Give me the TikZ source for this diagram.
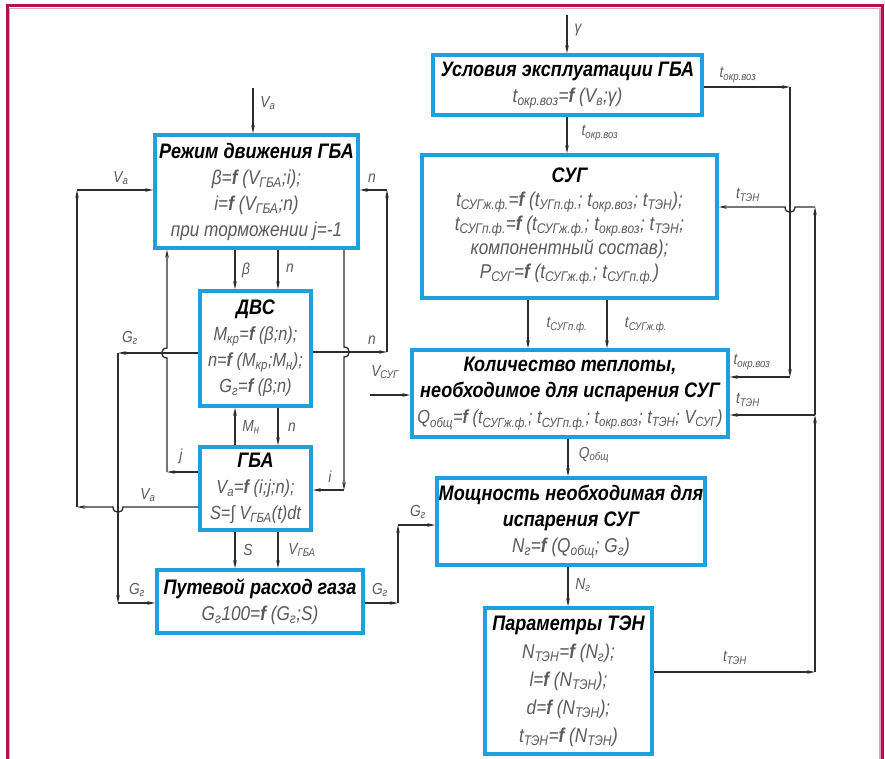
\documentclass[tikz,border=0pt]{standalone}
\usepackage{fontspec}
\setmainfont{Liberation Sans}[FakeStretch=0.86]
\usetikzlibrary{arrows.meta}
\definecolor{boxblue}{RGB}{30,160,222}
\definecolor{framecol}{RGB}{176,18,80}
\definecolor{framelight}{RGB}{225,160,190}
\definecolor{txtg}{RGB}{90,90,90}
\definecolor{lineg}{RGB}{45,45,45}
\newcommand\sbs[1]{\textsubscript{#1}}
\newcommand\ff{\textbf{f}}
\newcommand\ttl{\bfseries\color{black}\fontsize{21}{26}\selectfont}
\newcommand\fml{\itshape\fontsize{20}{26}\selectfont}
\tikzset{
  blk/.style={draw=boxblue,line width=3.4pt,fill=white,inner sep=0pt,align=center,text=txtg,font=\fml},
  con/.style={draw=lineg,line width=1.3pt},
  arr/.style={con,-{Stealth[length=8pt,width=3.5pt]}},
  lbl/.style={font=\itshape\fontsize{16}{16}\selectfont,text=txtg,inner sep=1pt}
}
\begin{document}
\begin{tikzpicture}[x=1pt,y=-1pt]
\useasboundingbox (0,0) rectangle (885,759);
\fill[white] (0,0) rectangle (885,759);
% frame
\draw[framelight,line width=1.2pt] (9.6,759) -- (9.6,8.6) -- (879.9,8.6) -- (879.9,759);
\draw[framecol,line width=3pt] (7,759) -- (7,6) -- (882.5,6) -- (882.5,759);

% ---------- left blocks ----------
\node[blk,minimum width=203pt,minimum height=113pt] (b1) at (256.5,191.5)
 {{\ttl Режим движения ГБА}\\β=\ff{} (V\sbs{ГБА};i);\\i=\ff{} (V\sbs{ГБА};n)\\при торможении j=-1};
\node[blk,minimum width=111pt,minimum height=115pt,font=\itshape\fontsize{19}{26}\selectfont] (b2) at (255.5,348.5)
 {{\ttl ДВС}\\M\sbs{кр}=\ff{} (β;n);\\n=\ff{} (M\sbs{кр};M\sbs{н});\\G\sbs{г}=\ff{} (β;n)};
\node[blk,minimum width=111pt,minimum height=83pt,font=\itshape\fontsize{19}{26}\selectfont] (b3) at (255.5,488.5)
 {{\ttl ГБА}\\V\sbs{a}=\ff{} (i;j;n);\\S=∫ V\sbs{ГБА}(t)dt};
\node[blk,minimum width=206pt,minimum height=63pt] (b4) at (260,601.5)
 {{\ttl Путевой расход газа}\\G\sbs{г}100=\ff{} (G\sbs{г};S)};

% ---------- right blocks ----------
\node[blk,minimum width=269pt,minimum height=60pt] (c1) at (567.5,85)
 {{\ttl Условия эксплуатации ГБА}\\t\sbs{окр.воз}=\ff{} (V\sbs{в};γ)};
\node[blk,minimum width=295pt,minimum height=143pt,font=\itshape\fontsize{20}{24}\selectfont] (c2) at (569.5,226.5)
 {{\ttl СУГ}\\t\sbs{СУГж.ф.}=\ff{} (t\sbs{УГп.ф.}; t\sbs{окр.воз}; t\sbs{ТЭН});\\t\sbs{СУГп.ф.}=\ff{} (t\sbs{СУГж.ф.}; t\sbs{окр.воз}; t\sbs{ТЭН};\\компонентный состав);\\P\sbs{СУГ}=\ff{} (t\sbs{СУГж.ф.}; t\sbs{СУГп.ф.})};
\node[blk,minimum width=316pt,minimum height=87pt] (c3) at (570,393.5)
 {{\ttl Количество теплоты,}\\{\ttl необходимое для испарения СУГ}\\{\fontsize{19}{26}\selectfont Q\sbs{общ}=\ff{} (t\sbs{СУГж.ф.}; t\sbs{СУГп.ф.}; t\sbs{окр.воз}; t\sbs{ТЭН}; V\sbs{СУГ})}};
\node[blk,minimum width=268pt,minimum height=87pt] (c4) at (571,521.5)
 {{\ttl Мощность необходимая для}\\{\ttl испарения СУГ}\\N\sbs{г}=\ff{} (Q\sbs{общ}; G\sbs{г})};
\node[blk,minimum width=167pt,minimum height=146pt,font=\itshape\fontsize{20}{28}\selectfont] (c5) at (568.5,681)
 {{\ttl Параметры ТЭН}\\N\sbs{ТЭН}=\ff{} (N\sbs{г});\\l=\ff{} (N\sbs{ТЭН});\\d=\ff{} (N\sbs{ТЭН});\\t\sbs{ТЭН}=\ff{} (N\sbs{ТЭН})};

% ---------- helper coordinates ----------
\coordinate (xb) at (235,0);
\coordinate (xn) at (278,0);
\coordinate (vin) at (253,88);
\coordinate (va1) at (77,507);
\coordinate (va2) at (77,190);
\coordinate (g1) at (118,353);
\coordinate (g2) at (118,603);
\coordinate (j1) at (167,472);
\coordinate (i1) at (344,490);
\coordinate (n1) at (387,352);
\coordinate (n2) at (387,190);
\coordinate (o1) at (398,603);
\coordinate (o2) at (398,525);
\coordinate (gin) at (567,15);
\coordinate (xg) at (567,0);
\coordinate (t1) at (790,87);
\coordinate (t2) at (790,377);
\coordinate (e1) at (815,672);
\coordinate (e2) at (815,415);
\coordinate (e3) at (815,207);
\coordinate (xp) at (528,0);
\coordinate (xz) at (607,0);
\coordinate (vs) at (370,395);
\coordinate (xq) at (568,0);

% ---------- left connectors ----------
\draw[arr] (vin) -- (vin |- b1.north);
\draw[arr] (xb |- b1.south) -- (xb |- b2.north);
\draw[arr] (xn |- b1.south) -- (xn |- b2.north);
\draw[arr] (xb |- b3.north) -- (xb |- b2.south);
\draw[arr] (xn |- b2.south) -- (xn |- b3.north);
\draw[arr] (xb |- b3.south) -- (xb |- b4.north);
\draw[arr] (xn |- b3.south) -- (xn |- b4.north);
% Va loop
\draw[arr] (b3.west |- va1) -- (123,507) .. controls (123,514) and (113,514) .. (113,507) -- (va1);
\draw[arr] (va1) -- (va2);
\draw[arr] (va2) -- (va2 -| b1.west);
% Gг from ДВС
\draw[arr] (b2.west |- g1) -- (g1);
\draw[arr] (g1) -- (g2);
\draw[arr] (g2) -- (g2 -| b4.west);
% j
\draw[arr] (b3.west |- j1) -- (j1);
\draw[arr] (j1) -- (167,358) .. controls (160,358) and (160,348) .. (167,348) -- (j1 |- b1.south);
% i
\draw[arr] (i1 |- b1.south) -- (344,347) .. controls (351,347) and (351,357) .. (344,357) -- (i1);
\draw[arr] (i1) -- (i1 -| b3.east);
% n loop
\draw[arr] (b2.east |- n1) -- (n1);
\draw[arr] (n1) -- (n2);
\draw[arr] (n2) -- (n2 -| b1.east);
% Gг out
\draw[arr] (b4.east |- o1) -- (o1);
\draw[arr] (o1) -- (o2);
\draw[arr] (o2) -- (o2 -| c4.west);

% ---------- right connectors ----------
\draw[arr] (gin) -- (gin |- c1.north);
\draw[arr] (xg |- c1.south) -- (xg |- c2.north);
\draw[arr] (c1.east |- t1) -- (t1);
\draw[arr] (t1) -- (t2);
\draw[arr] (t2) -- (t2 -| c3.east);
\draw[arr] (c5.east |- e1) -- (e1);
\draw[arr] (e1) -- (e2);
\draw[arr] (e2) -- (e2 -| c3.east);
\draw[arr] (e2) -- (e3);
\draw[arr] (e3) -- (795,207) .. controls (795,214) and (785,214) .. (785,207) -- (e3 -| c2.east);
\draw[arr] (xp |- c2.south) -- (xp |- c3.north);
\draw[arr] (xz |- c2.south) -- (xz |- c3.north);
\draw[arr] (vs) -- (vs -| c3.west);
\draw[arr] (xq |- c3.south) -- (xq |- c4.north);
\draw[arr] (xq |- c4.south) -- (xq |- c5.north);

% ---------- labels ----------
\node[lbl] (l1) at (268,103) {V\sbs{a}};
\node[lbl] (l2) at (246,270) {β};
\node[lbl] (l3) at (290,268) {n};
\node[lbl] (l4) at (121,178) {V\sbs{a}};
\node[lbl] (l5) at (372,178) {n};
\node[lbl] (l6) at (130,338) {G\sbs{г}};
\node[lbl] (l7) at (372,340) {n};
\node[lbl] (l8) at (251,427) {M\sbs{н}};
\node[lbl] (l9) at (292,427) {n};
\node[lbl] (l10) at (181,456) {j};
\node[lbl] (l11) at (330,477) {i};
\node[lbl] (l12) at (148,495) {V\sbs{a}};
\node[lbl] (l13) at (248,550) {S};
\node[lbl] (l14) at (302,550) {V\sbs{ГБА}};
\node[lbl] (l15) at (137,590) {G\sbs{г}};
\node[lbl] (l16) at (380,590) {G\sbs{г}};
\node[lbl] (l17) at (418,512) {G\sbs{г}};
\node[lbl] (l18) at (578,30) {γ};
\node[lbl] (l19) at (738,75) {t\sbs{окр.воз}};
\node[lbl] (l20) at (600,133) {t\sbs{окр.воз}};
\node[lbl] (l21) at (748,195) {t\sbs{ТЭН}};
\node[lbl] (l22) at (567,325) {t\sbs{СУГп.ф.}};
\node[lbl] (l23) at (646,325) {t\sbs{СУГж.ф.}};
\node[lbl] (l24) at (385,372) {V\sbs{СУГ}};
\node[lbl] (l25) at (752,362) {t\sbs{окр.воз}};
\node[lbl] (l26) at (748,400) {t\sbs{ТЭН}};
\node[lbl] (l27) at (594,455) {Q\sbs{общ}};
\node[lbl] (l28) at (583,585) {N\sbs{г}};
\node[lbl] (l29) at (735,658) {t\sbs{ТЭН}};
\end{tikzpicture}
\end{document}
